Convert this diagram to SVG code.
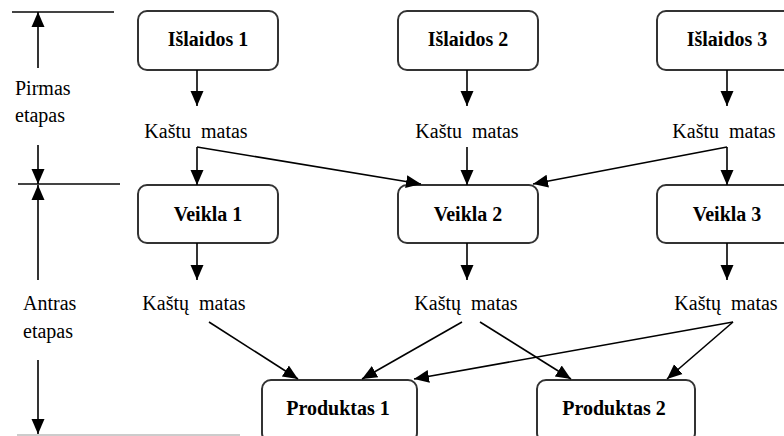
<svg xmlns="http://www.w3.org/2000/svg" width="784" height="436" viewBox="0 0 784 436">
<style>
.box{fill:#fff;stroke:#333;stroke-width:2}
.bl{font-weight:bold;font-size:20px;text-anchor:middle;fill:#000}
.t{font-size:20px;fill:#000}
.c{stroke:#000;stroke-width:1.6;fill:none;marker-end:url(#ah)}
.rule{stroke:#444;stroke-width:2}
</style>
<defs>
<marker id="ah" markerUnits="userSpaceOnUse" markerWidth="16" markerHeight="16" viewBox="0 0 16 16" refX="15" refY="8" orient="auto">
<path d="M0,1.5 L15,8 L0,14.5 Z" fill="#000"/>
</marker>
</defs>
<rect width="784" height="436" fill="#fff"/>
<g font-family="Liberation Serif, Times New Roman, serif">
<g id="scale">
<line class="rule" x1="12" y1="12" x2="114" y2="12"/>
<line class="rule" x1="18" y1="184" x2="120" y2="184"/>
<line x1="17" y1="435" x2="240" y2="435" stroke="#bbb" stroke-width="1.5"/>
<text class="t" x="15" y="95">Pirmas</text>
<text class="t" x="15" y="122">etapas</text>
<text class="t" x="23" y="310">Antras</text>
<text class="t" x="23" y="338">etapas</text>
</g>
<g id="n-islaidos1"><rect class="box" x="138" y="11" width="140" height="59" rx="9"/><text class="bl" x="208" y="46">Išlaidos 1</text></g>
<g id="n-islaidos2"><rect class="box" x="398" y="11" width="140" height="59" rx="9"/><text class="bl" x="468" y="46">Išlaidos 2</text></g>
<g id="n-islaidos3"><rect class="box" x="657" y="11" width="140" height="59" rx="9"/><text class="bl" x="727" y="46">Išlaidos 3</text></g>
<g id="n-km1"><text class="t" x="196" y="138" text-anchor="middle" word-spacing="5">Kaštu matas</text></g>
<g id="n-km2"><text class="t" x="467" y="138" text-anchor="middle" word-spacing="5">Kaštu matas</text></g>
<g id="n-km3"><text class="t" x="724" y="138" text-anchor="middle" word-spacing="5">Kaštu matas</text></g>
<g id="n-veikla1"><rect class="box" x="138" y="185" width="140" height="58" rx="9"/><text class="bl" x="208" y="221">Veikla 1</text></g>
<g id="n-veikla2"><rect class="box" x="398" y="185" width="140" height="58" rx="9"/><text class="bl" x="468" y="221">Veikla 2</text></g>
<g id="n-veikla3"><rect class="box" x="657" y="185" width="140" height="58" rx="9"/><text class="bl" x="727" y="221">Veikla 3</text></g>
<g id="n-kmb1"><text class="t" x="194" y="310" text-anchor="middle" word-spacing="5">Kaštų matas</text></g>
<g id="n-kmb2"><text class="t" x="466" y="310" text-anchor="middle" word-spacing="5">Kaštų matas</text></g>
<g id="n-kmb3"><text class="t" x="726" y="310" text-anchor="middle" word-spacing="5">Kaštų matas</text></g>
<g id="n-produktas1"><rect class="box" x="262" y="380" width="155" height="62" rx="9"/><text class="bl" x="338" y="415">Produktas 1</text></g>
<g id="n-produktas2"><rect class="box" x="537" y="380" width="158" height="62" rx="9"/><text class="bl" x="614" y="415">Produktas 2</text></g>
</g>
<g id="connectors">
<line class="c" x1="38" y1="68" x2="38" y2="12"/>
<line class="c" x1="38" y1="145" x2="38" y2="184"/>
<line class="c" x1="38" y1="280" x2="38" y2="185"/>
<line class="c" x1="38" y1="360" x2="38" y2="434"/>
<line class="c" x1="197" y1="70" x2="197" y2="106"/>
<line class="c" x1="467" y1="70" x2="467" y2="106"/>
<line class="c" x1="727" y1="70" x2="727" y2="106"/>
<line class="c" x1="197" y1="147" x2="197" y2="185"/>
<path class="c" d="M197,147 L421,184"/>
<line class="c" x1="467" y1="147" x2="467" y2="185"/>
<line class="c" x1="727" y1="147" x2="727" y2="185"/>
<path class="c" d="M727,147 L533,184"/>
<line class="c" x1="197" y1="243" x2="197" y2="280"/>
<line class="c" x1="467" y1="243" x2="467" y2="280"/>
<line class="c" x1="727" y1="243" x2="727" y2="280"/>
<path class="c" d="M209,322 L298,379"/>
<path class="c" d="M462,322 L362,379"/>
<path class="c" d="M480,322 L571,379"/>
<path class="c" d="M733,322 L414,379"/>
<path class="c" d="M733,322 L667,379"/>
</g>
</svg>
